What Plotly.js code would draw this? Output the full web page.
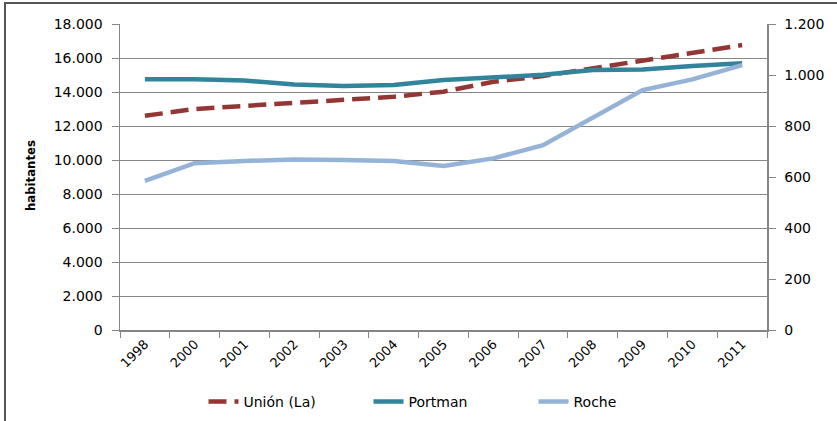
<!DOCTYPE html>
<html>
<head>
<meta charset="utf-8">
<script src="https://cdn.plot.ly/plotly-3.0.1.min.js"></script>
<style>
html,body{margin:0;padding:0;background:#fff;}
#wrap{position:relative;width:837px;height:421px;}
#chart{width:837px;height:421px;}
#bl{position:absolute;left:4px;top:2px;width:2px;height:419px;background:#555;}
#bt{position:absolute;left:4px;top:2px;width:833px;height:2px;background:#555;}
</style>
</head>
<body>
<div id="wrap"><div id="chart"></div><div id="bl"></div><div id="bt"></div></div>
<script>
var years = ["1998","2000","2001","2002","2003","2004","2005","2006","2007","2008","2009","2010","2011"];
var union = [12600,13000,13180,13370,13590,13720,14020,14600,14940,15390,15840,16310,16760];
var portman = [983,983,978,963,957,961,980,990,1001,1020,1022,1035,1046];
var roche = [585,654,663,669,667,663,643,673,725,834,941,983,1039];

var tickFont = {family:"DejaVu Sans", size:14, color:"#000"};
var axisGray = "#868686";

var traces = [
  {x:years, y:union, name:"Unión (La)", type:"scatter", mode:"lines",
   line:{color:"#943634", width:4.5, dash:"18px,8px"}, yaxis:"y"},
  {x:years, y:portman, name:"Portman", type:"scatter", mode:"lines",
   line:{color:"#31849B", width:4.5}, yaxis:"y2"},
  {x:years, y:roche, name:"Roche", type:"scatter", mode:"lines",
   line:{color:"#95B3D7", width:4.5}, yaxis:"y2"}
];

var layout = {
  width:837, height:421,
  margin:{l:120, r:70, t:24, b:91, autoexpand:false},
  paper_bgcolor:"#fff", plot_bgcolor:"#fff",
  separators:",.",
  showlegend:true,
  legend:{orientation:"h", xref:"container", yref:"container", x:451/837, xanchor:"center",
          y:(421-402)/421, yanchor:"middle", entrywidth:120,
          font:{family:"DejaVu Sans", size:14, color:"#000"}, traceorder:"normal"},
  xaxis:{type:"category", range:[-0.5,12.5], tickson:"boundaries", ticks:"outside", ticklen:6,
         tickcolor:axisGray, showline:true, linecolor:axisGray, linewidth:1.5, showgrid:false,
         tickangle:-45, tickfont:{family:"DejaVu Sans", size:13, color:"#000"}, zeroline:false, automargin:false},
  yaxis:{range:[0,18000], dtick:2000, tickformat:",d", showgrid:true, gridcolor:axisGray, gridwidth:1,
         showline:true, linecolor:axisGray, linewidth:1.5, ticks:"outside", ticklen:7, tickcolor:axisGray,
         tickfont:tickFont, zeroline:false, ticklabelstandoff:6, automargin:false},
  yaxis2:{range:[0,1200], dtick:200, tickformat:",d", overlaying:"y", side:"right", showgrid:false,
          showline:true, linecolor:axisGray, linewidth:1.5, ticks:"outside", ticklen:7, tickcolor:axisGray,
          tickfont:tickFont, zeroline:false, ticklabelstandoff:6, automargin:false},
  annotations:[{text:"<b>habitantes</b>", textangle:-90, xref:"paper", yref:"paper",
                x:(30-120)/647, y:(330-176)/306, xanchor:"center", yanchor:"middle", showarrow:false,
                font:{family:"DejaVu Sans Condensed, Liberation Sans, sans-serif", size:13, color:"#000"}}]
};

Plotly.newPlot("chart", traces, layout, {displayModeBar:false, staticPlot:true});
</script>
</body>
</html>
